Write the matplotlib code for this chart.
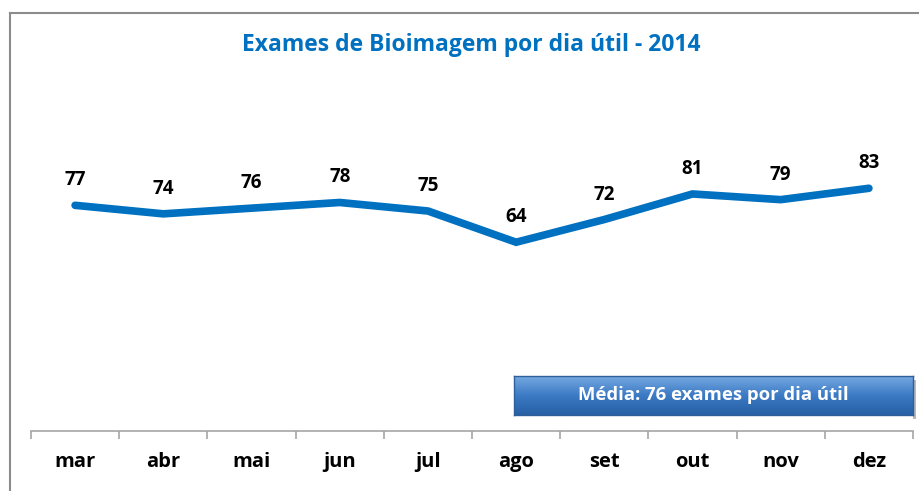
import matplotlib as mpl
mpl.use('Agg')

import matplotlib.pyplot as plt
import numpy as np
from matplotlib.lines import Line2D
from matplotlib.patches import Rectangle

meses = ["mar", "abr", "mai", "jun", "jul", "ago", "set", "out", "nov", "dez"]
exames = [77, 74, 76, 78, 75, 64, 72, 81, 79, 83]
titulo = "Exames de Bioimagem por dia útil - 2014"
media_txt = "Média: 76 exames por dia útil"

azul = "#0070C0"
W, H = 919, 491
plt.rcParams['font.family'] = ['Open Sans', 'DejaVu Sans']

fig = plt.figure(figsize=(W / 100, H / 100), dpi=100)

# moldura cinza (cortada a direita e embaixo)
fig.add_artist(Line2D([10 / W, 10 / W], [0, 1 - 13 / H], color="#8c8c8c", lw=1.5))
fig.add_artist(Line2D([10 / W, 1], [1 - 13 / H, 1 - 13 / H], color="#8c8c8c", lw=1.5))

# area do grafico: x de 31 a 913 px, zero em y=423, 100 em y=139
ax = fig.add_axes([31 / W, 67 / H, 882 / W, 284 / H])
x = np.arange(len(meses))
ax.plot(x, exames, color=azul, lw=5.5, solid_capstyle='round', solid_joinstyle='miter')
ax.set_xlim(-0.5, len(meses) - 0.5)
ax.set_ylim(0, 100)

for xi, v in zip(x, exames):
    ax.annotate(str(v), (xi, v), xytext=(0, 25), textcoords='offset pixels',
                ha='center', va='center', fontsize=13.5, fontweight='bold', color='black')

for s in ['top', 'right', 'left']:
    ax.spines[s].set_visible(False)
ax.spines['bottom'].set_position(('outward', 5))
ax.spines['bottom'].set_color("#a6a6a6")
ax.spines['bottom'].set_linewidth(1.2)
ax.set_yticks([])
ax.set_xticks(x)
ax.set_xticklabels(meses, fontsize=14.5, fontweight='bold')
ax.tick_params(axis='x', length=0, pad=15)
ax.set_xticks(np.arange(-0.5, len(meses), 1), minor=True)
ax.tick_params(axis='x', which='minor', length=6, color="#a6a6a6", width=1.2, direction='out')

fig.text(471 / W, 1 - 45 / H, titulo, ha='center', va='center', fontsize=16.5,
         fontweight='bold', color=azul)

# caixa da media com sombra e degrade
bx0, by0, bw, bh = 514, 376, 399, 39
fig.add_artist(Rectangle(((bx0 + 3) / W, 1 - (by0 + bh + 4) / H), bw / W, bh / H,
                         transform=fig.transFigure, facecolor="#a8a8a8", edgecolor='none',
                         alpha=0.8, zorder=-1))
bax = fig.add_axes([bx0 / W, 1 - (by0 + bh) / H, bw / W, bh / H], zorder=3)
grad = np.linspace(0, 1, 50).reshape(-1, 1)
cmap = mpl.colors.LinearSegmentedColormap.from_list("g", ["#74a8e0", "#3c7ac4", "#2760a6"])
bax.imshow(grad, aspect='auto', cmap=cmap, extent=[0, 1, 0, 1])
bax.set_xticks([])
bax.set_yticks([])
for s in bax.spines.values():
    s.set_color("#2f5f9a")
    s.set_linewidth(1)
bax.text(0.5, 0.5, media_txt, ha='center', va='center', color='white',
         fontsize=13.3, fontweight='bold', transform=bax.transAxes)

plt.savefig("out.png", dpi=100)
